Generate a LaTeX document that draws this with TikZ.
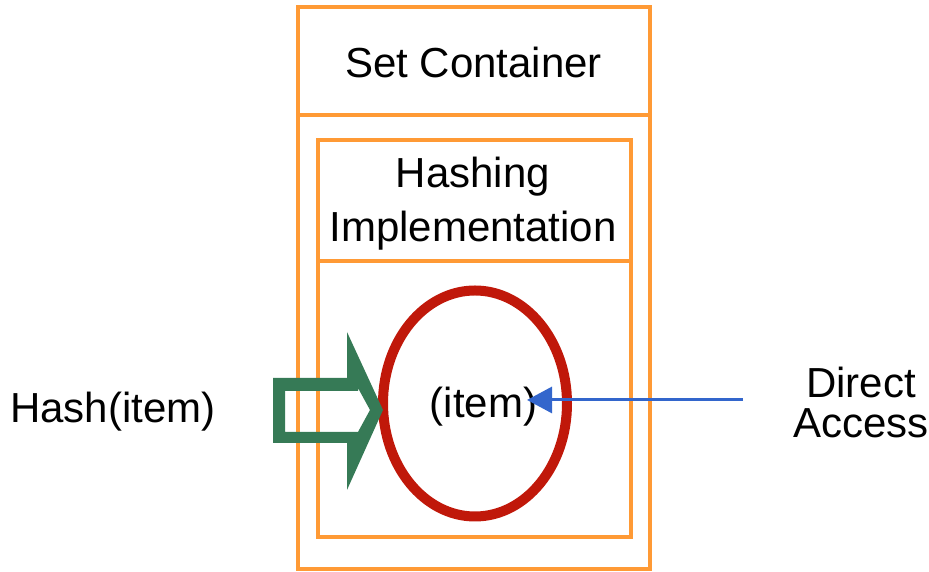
\documentclass[tikz,border=0pt]{standalone}
\usepackage{fontspec}
\setmainfont{Liberation Sans}
\definecolor{SETorange}{HTML}{FF9A35}
\definecolor{SETred}{HTML}{C0180A}
\definecolor{SETgreen}{HTML}{367A56}
\definecolor{SETblue}{HTML}{3366CC}
\usetikzlibrary{arrows.meta, positioning, shapes.geometric}

\begin{document}
\begin{tikzpicture}[
      box/.style={draw=SETorange, line width=2pt},
      txt/.style={font=\fontsize{23.9}{30.7}\selectfont, inner sep=0pt},
      bucket/.style={draw=SETred, ellipse, line width=0.2cm, inner sep=0pt,
         minimum width=3.68cm, minimum height=4.52cm}
   ]
      \useasboundingbox (0,0) rectangle (18.58,11.44);
      % container with its title bar
      \draw[box] (5.96,0.06) rectangle (13.0,11.30);
      \draw[box] (5.96,9.14) -- (13.0,9.14);
      \node[txt, anchor=base] (set) at (9.47,9.88) {Set Container};
      % hashing block inside
      \draw[box] (6.36,0.70) rectangle (12.62,8.64);
      \draw[box] (6.36,6.22) -- (12.62,6.22);
      \node[txt, align=center] (impl) at (9.46,7.36) {Hashing\\Implementation};
      \node[bucket] (slot) at (9.50,3.37) {};
      \node[txt, anchor=base] (item) at (9.67,3.08) {(item)};
      % hash function arrow
      \node[txt, anchor=base] (hash) at (2.26,2.98) {Hash(item)};
      \fill[SETgreen, even odd rule]
         (5.46,3.88) -- (6.94,3.88) -- (6.94,4.80) -- (7.66,3.24) -- (6.94,1.64)
         -- (6.94,2.58) -- (5.46,2.58) -- cycle
         (5.70,3.62) -- (7.16,3.62) -- (7.16,3.68) -- (7.40,3.24) -- (7.16,2.80)
         -- (5.70,2.80) -- cycle;
      % direct lookup
      \node[txt, align=center, font=\fontsize{23.9}{22.8}\selectfont] (direct) at (17.22,3.39) {Direct\\Access};
      \coordinate (feed) at (14.86,3.44);
      \coordinate (hit) at (10.54,3.44);
      \draw[SETblue, line width=0.06cm, -{Triangle[length=0.5cm, width=0.52cm]}] (feed) -- (hit);
   \end{tikzpicture}
\end{document}
